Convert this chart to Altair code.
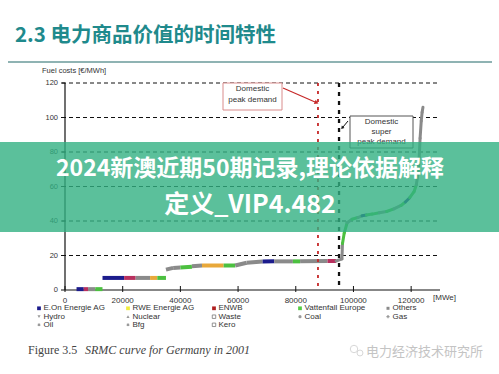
import altair as alt
import pandas as pd

# ---------------- data ----------------
owner_names = ["E.On", "RWE", "ENWB", "Vattenfall", "Others"]
owner_colors = ["#1c1c8c", "#e8a83a", "#b8305e", "#4cc040", "#8a8a8a"]

# base-load / mid-load steps of the merit order curve
seg_x0 = [4000, 6500, 8000, 10500, 13000, 20500, 24500, 29500, 32000,
          35000, 37500, 40000, 44000, 47500, 55000, 59000, 63000, 68500,
          72500, 79000, 81500, 91000]
seg_x1 = [6500, 8000, 10500, 13000, 20500, 24500, 29500, 32000, 35000,
          37500, 40000, 44000, 47500, 55000, 59000, 63000, 68500, 72500,
          79000, 81500, 91000, 94000]
seg_y0 = [0.5, 0.5, 0.5, 0.5, 7, 7, 7, 7, 7,
          11.8, 12.8, 13, 13.8, 14.2, 14.2, 14.2, 15.8, 16.5,
          16.6, 16.6, 16.6, 16.8]
seg_y1 = [0.5, 0.5, 0.5, 0.5, 7, 7, 7, 7, 7,
          12.8, 13, 13.5, 14.2, 14.2, 14.2, 15.8, 16.5, 16.6,
          16.6, 16.6, 16.8, 16.8]
seg_owner = ["E.On", "ENWB", "Others", "Vattenfall", "E.On", "ENWB", "Others", "RWE", "Vattenfall",
             "Others", "Others", "Vattenfall", "Others", "RWE", "Vattenfall", "Others", "Others", "E.On",
             "Others", "Vattenfall", "Others", "ENWB"]

# peak part of the curve (points)
peak_x = [94000, 96000, 96200, 96800, 97800, 99500, 101500, 103000, 104500, 106500, 109000, 111500,
          114000, 116500, 118000, 119500, 121000, 121800, 122400, 122800, 123100, 123500, 123800, 124100]
peak_y = [16.8, 18, 27, 33, 39, 41, 42, 43, 43.5, 44, 44.8, 45.5,
          47, 49, 51, 53.5, 57, 61, 68, 77, 88, 98, 103, 106]
peak_owner = ["Others", "Others", "Vattenfall", "Vattenfall", "Others", "Vattenfall", "Others", "E.On",
              "Vattenfall", "Vattenfall", "Others", "Vattenfall", "Others", "Vattenfall", "E.On",
              "Vattenfall", "Vattenfall", "Others", "Others", "Others", "Others", "Others", "Others"]

peak_demand_mw = [87700]
super_peak_demand_mw = [95000]

y_ticks = [0, 20, 40, 60, 80, 100, 120]
x_ticks = [0, 20000, 40000, 60000, 80000, 100000, 120000]

legend_names = ["E.On Energie AG", "RWE Energie AG", "ENWB", "Vattenfall Europe", "Others",
                "Hydro", "Nuclear", "Waste", "Coal", "Gas",
                "Oil", "Bfg", "Kero"]

title_text = "2.3 电力商品价值的时间特性"
banner_1 = "2024新澳近期50期记录,理论依据解释"
banner_2 = "定义_VIP4.482"

# ---------------- layout ----------------
OX, OY = 65, 83
W, H = 375, 207

xs = alt.Scale(domain=[0, 130000], nice=False, zero=False)
ys = alt.Scale(domain=[0, 120], nice=False, zero=False)
cs = alt.Scale(domain=owner_names, range=owner_colors)

base_df = pd.DataFrame({"x0": seg_x0, "x1": seg_x1, "y0": seg_y0, "y1": seg_y1, "owner": seg_owner})
peak_df = pd.DataFrame({
    "x0": peak_x[:-1], "x1": peak_x[1:], "y0": peak_y[:-1], "y1": peak_y[1:], "owner": peak_owner})
ytick_df = pd.DataFrame({"v": y_ticks, "lab": [str(v) for v in y_ticks]})
xtick_df = pd.DataFrame({"v": x_ticks, "lab": [str(v) for v in x_ticks]})

# ----- manual axes driven by the scales -----
grid = alt.Chart(ytick_df[ytick_df.v > 0]).mark_rule(
    color="#111", strokeDash=[4, 3], strokeWidth=1).encode(
    y=alt.Y("v:Q", scale=ys, axis=None), x=alt.value(-3), x2=alt.value(W))
ytick_marks = alt.Chart(ytick_df).mark_rule(color="#111", strokeWidth=1).encode(
    y=alt.Y("v:Q", scale=ys, axis=None), x=alt.value(-4), x2=alt.value(0))
ylabels = alt.Chart(ytick_df).mark_text(
    align="right", baseline="middle", fontSize=7.5, font="Liberation Sans", color="#333").encode(
    y=alt.Y("v:Q", scale=ys, axis=None), x=alt.value(-7), text="lab:N")
xtick_marks = alt.Chart(xtick_df).mark_rule(color="#111", strokeWidth=1).encode(
    x=alt.X("v:Q", scale=xs, axis=None), y=alt.value(H - 4), y2=alt.value(H + 2))
xlabels = alt.Chart(xtick_df).mark_text(
    align="center", baseline="middle", fontSize=8, font="Liberation Sans", color="#333").encode(
    x=alt.X("v:Q", scale=xs, axis=None), y=alt.value(H + 10.5), text="lab:N")

one = pd.DataFrame({"a": [0]})
y_axis_line = alt.Chart(one).mark_rule(color="#111", strokeWidth=1.2).encode(
    x=alt.value(0), y=alt.value(0), y2=alt.value(H))
x_axis_line = alt.Chart(one).mark_rule(color="#111", strokeWidth=1.2).encode(
    x=alt.value(0), x2=alt.value(W), y=alt.value(H))

base = alt.Chart(base_df).mark_rule(strokeWidth=4, strokeCap="butt").encode(
    x=alt.X("x0:Q", scale=xs, axis=None), x2="x1:Q",
    y=alt.Y("y0:Q", scale=ys, axis=None), y2="y1:Q",
    color=alt.Color("owner:N", scale=cs, legend=None),
)

peak = alt.Chart(peak_df).mark_rule(strokeWidth=3, strokeCap="round").encode(
    x=alt.X("x0:Q", scale=xs, axis=None), x2="x1:Q",
    y=alt.Y("y0:Q", scale=ys, axis=None), y2="y1:Q",
    color=alt.Color("owner:N", scale=cs, legend=None),
)

red_line = alt.Chart(pd.DataFrame({"mw": peak_demand_mw})).mark_rule(
    color="#c62828", strokeDash=[3, 5], strokeWidth=1.8).encode(x=alt.X("mw:Q", scale=xs, axis=None))
black_line = alt.Chart(pd.DataFrame({"mw": super_peak_demand_mw})).mark_rule(
    color="#111", strokeDash=[4, 5], strokeWidth=2.3).encode(x=alt.X("mw:Q", scale=xs, axis=None))


def T(s, x, y, size, color="#333", font="Liberation Sans", align="left", weight="normal", style="normal"):
    return alt.Chart(pd.DataFrame({"t": [s]})).mark_text(
        align=align, baseline="middle", fontSize=size, font=font, fontWeight=weight,
        fontStyle=style, color=color).encode(
        x=alt.value(x - OX), y=alt.value(y - OY), text="t:N")


def R(x1, y1, x2, y2, **kw):
    return alt.Chart(one).mark_rect(**kw).encode(
        x=alt.value(x1 - OX), x2=alt.value(x2 - OX), y=alt.value(y1 - OY), y2=alt.value(y2 - OY))


def L(x1, y1, x2, y2, **kw):
    return alt.Chart(one).mark_rule(**kw).encode(
        x=alt.value(x1 - OX), x2=alt.value(x2 - OX), y=alt.value(y1 - OY), y2=alt.value(y2 - OY))


def P(x, y, **kw):
    return alt.Chart(one).mark_point(**kw).encode(x=alt.value(x - OX), y=alt.value(y - OY))


layers = [grid, ytick_marks, ylabels, xtick_marks, xlabels, y_axis_line, x_axis_line,
          base, peak, red_line, black_line]

# annotation boxes and arrows
layers += [
    R(223, 83, 282, 110, fill="white", stroke="#d98c8c", strokeWidth=1),
    T("Domestic", 252.5, 88.5, 8, align="center"),
    T("peak demand", 252.5, 99.5, 8, align="center"),
    L(283, 88, 315, 102, color="#c62828", strokeWidth=1.2),
    P(316, 102.5, shape="triangle", filled=True, size=22, angle=114, color="#c62828", opacity=1),
    R(350, 116, 413, 148, fill="white", stroke="#555", strokeWidth=1),
    T("Domestic", 381.5, 122, 8, align="center"),
    T("super", 381.5, 132, 8, align="center"),
    T("peak demand", 381.5, 142, 8, align="center"),
    L(348, 121, 343, 127, color="#111", strokeWidth=1),
    P(342.5, 127.5, shape="triangle", filled=True, size=12, angle=221, color="#111", opacity=1),
    T("Fuel costs [€/MWh]", 42, 71, 7.5),
    T("[MWe]", 433, 297.5, 8),
]

# legend (5 columns, row-major)
col_x = [39, 128, 214, 300, 388]
row_y = [308.3, 316.7, 324.8]
sym = [
    dict(shape="square", filled=True, size=14, color="#1c1c8c"),
    dict(shape="square", filled=True, size=14, color="#f0ec40"),
    dict(shape="square", filled=True, size=14, color="#b02020"),
    dict(shape="square", filled=True, size=14, color="#55cc44"),
    dict(shape="square", filled=True, size=9, color="#8a8a8a"),
    dict(shape="triangle-down", filled=True, size=10, color="#999"),
    dict(shape="triangle-up", filled=True, size=10, color="#999"),
    dict(shape="square", filled=False, size=12, color="#777", strokeWidth=0.8),
    dict(shape="circle", filled=True, size=10, color="#999"),
    dict(shape="cross", filled=True, size=10, color="#999"),
    dict(shape="cross", filled=True, size=10, color="#999", angle=45),
    dict(shape="cross", filled=True, size=10, color="#999", angle=45),
    dict(shape="square", filled=False, size=12, color="#777", strokeWidth=0.8),
]
for i, name in enumerate(legend_names):
    cx = col_x[i % 5]
    cy = row_y[i // 5]
    layers.append(P(cx, cy, opacity=1, **sym[i]))
    layers.append(T(name, cx + 4.5, cy, 8))

# banner overlay
layers += [
    R(0, 142, 499, 232, fill="#32b082", opacity=0.8),
    T(banner_1, 250, 169, 23, color="white", font="Noto Sans CJK SC", align="center", weight="bold"),
    T(banner_2, 250, 205, 25, color="white", font="Noto Sans CJK SC", align="center", weight="bold"),
]

# slide title, separator, caption, watermark
layers += [
    T(title_text, 15, 36, 20.5, color="#1f8a8c", font="Noto Sans CJK SC", weight="bold"),
    L(8, 62, 492, 62, color="#6a9a9a", strokeWidth=1.5),
    T("Figure 3.5", 28, 350, 12, color="#444", font="Liberation Serif"),
    T("SRMC curve for Germany in 2001", 85, 350, 12, color="#444", font="Liberation Serif", style="italic"),
    P(354, 349, shape="circle", filled=False, size=55, color="#c8c8c8", strokeWidth=1),
    P(360, 353, shape="circle", filled=False, size=35, color="#c8c8c8", strokeWidth=1),
    T("电力经济技术研究所", 366, 352, 13, color="#c4c4c4", font="Noto Sans CJK SC"),
]

chart = alt.layer(*layers).properties(
    width=W, height=H,
    autosize=alt.AutoSizeParams(type="none"),
    padding={"left": OX, "top": OY, "right": 499 - OX - W, "bottom": 374 - OY - H},
    background="white",
).configure_view(strokeWidth=0)

chart.save("out.html", embed_options={"renderer": "svg", "actions": False})
